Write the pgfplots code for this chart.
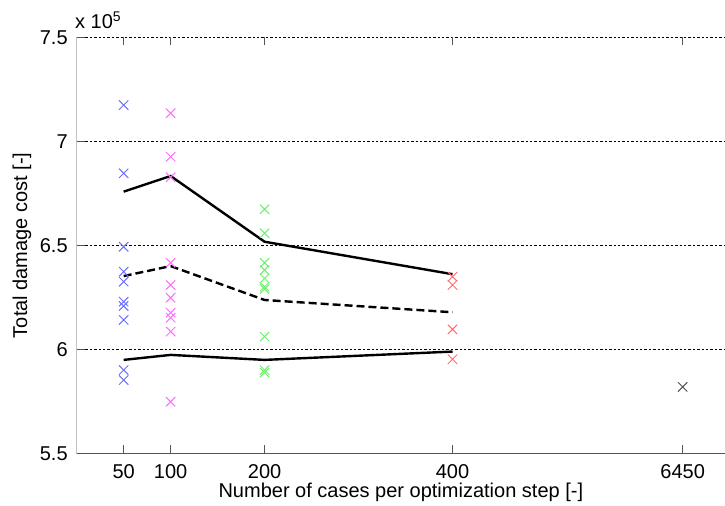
\documentclass[border=0pt]{standalone}
\usepackage{fontspec}
\setmainfont{Liberation Sans}
\usepackage{pgfplots}
\pgfplotsset{compat=1.18}
\definecolor{cblue}{HTML}{6E6EFF}
\definecolor{cmag}{HTML}{FF6EFF}
\definecolor{cgreen}{HTML}{6EF06E}
\definecolor{cred}{HTML}{FF6E6E}
\definecolor{cgray}{HTML}{505050}
\definecolor{axisgray}{HTML}{555555}

\begin{document}
\begin{tikzpicture}
\useasboundingbox (-38.35pt,-26.35pt) rectangle (324.15pt,226.65pt);
\begin{axis}[
  at={(0,0)}, anchor=south west,
  width=324.15pt, height=208pt, scale only axis,
  xmin=0, xmax=690, ymin=550000, ymax=750000,
  xtick={50,100,200,400,645},
  xticklabels={50,100,200,400,6450},
  ytick={550000,600000,650000,700000,750000},
  scaled y ticks=base 10:-5,
  ytick scale label code/.code={x 10\textsuperscript{5}},
  every y tick scale label/.style={at={(rel axis cs:0,1)}, anchor=south west, inner sep=0pt, yshift=4pt},
  /pgf/number format/assume math mode=true,
  axis line style={draw=none},
  xtick pos=both, ytick pos=left,
  tick align=inside,
  major tick length=4pt,
  tick style={axisgray, line width=0.5pt},
  ymajorgrids,
  grid style={black, line width=0.4pt, dash pattern=on 1.2pt off 1pt},
  xticklabel style={yshift=-2pt},
  yticklabel style={xshift=-1pt},
  xlabel={Number of cases per optimization step [-]},
  ylabel={Total damage cost [-]},
  every axis x label/.style={at={(axis description cs:0.5,-0.095)}, anchor=center},
  every axis y label/.style={at={(axis description cs:-0.0844,0.5)}, anchor=center, rotate=90},
  mark size=3.3pt,
]
\draw[axisgray, line width=0.5pt] (rel axis cs:0,1) -- (rel axis cs:0,0) -- (rel axis cs:1,0);
\addplot[only marks, mark=x, cblue, mark options={line width=0.5pt}] coordinates {
  (50,717400) (50,684600) (50,649300) (50,637300) (50,632500)
  (50,622900) (50,620800) (50,614100) (50,590000) (50,585200)
};
\addplot[only marks, mark=x, cmag, mark options={line width=0.5pt}] coordinates {
  (100,713500) (100,692600) (100,682700) (100,641600) (100,630900)
  (100,624800) (100,617600) (100,615200) (100,608500) (100,574800)
};
\addplot[only marks, mark=x, cgreen, mark options={line width=0.5pt}] coordinates {
  (200,667300) (200,655800) (200,641600) (200,638100) (200,634100)
  (200,630100) (200,629000) (200,606100) (200,590000) (200,588800)
};
\addplot[only marks, mark=x, cred, mark options={line width=0.5pt}] coordinates {
  (400,634900) (400,630900) (400,609600) (400,595200)
};
\addplot[only marks, mark=x, cgray, mark options={line width=0.5pt}] coordinates {
  (645,581900)
};
% max, mean, min
\addplot[black, line width=1.2pt, no marks] coordinates {
  (50,675800) (100,683300) (200,651700) (400,636100)
};
\addplot[black, line width=1.2pt, no marks, dash pattern=on 4pt off 2pt] coordinates {
  (50,635200) (100,640000) (200,623700) (400,617800)
};
\addplot[black, line width=1.2pt, no marks] coordinates {
  (50,594900) (100,597300) (200,594900) (400,598900)
};
\end{axis}
\end{tikzpicture}
\end{document}
